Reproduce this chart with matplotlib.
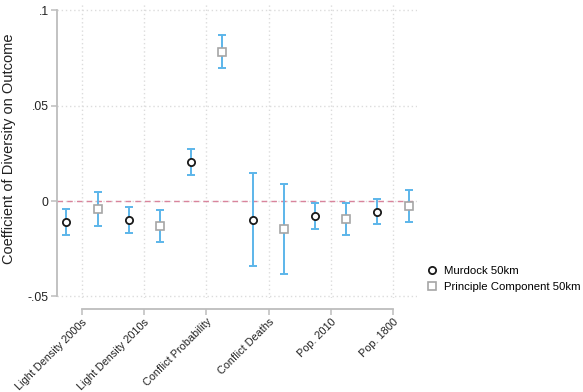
import matplotlib
matplotlib.use("Agg")
import matplotlib.pyplot as plt
import numpy as np

plt.rcParams['font.family'] = ['Liberation Sans', 'DejaVu Sans']

categories = ["Light Density 2000s", "Light Density 2010s", "Conflict Probability",
              "Conflict Deaths", "Pop. 2010", "Pop. 1800"]

murdock_coef = [-0.0110, -0.0101, 0.0204, -0.0098, -0.0077, -0.0056]
murdock_lo = [-0.0178, -0.0169, 0.0138, -0.0342, -0.0145, -0.0119]
murdock_hi = [-0.0042, -0.0033, 0.0271, 0.0147, -0.0009, 0.0010]

pc_coef = [-0.0042, -0.0131, 0.0782, -0.0147, -0.0094, -0.0028]
pc_lo = [-0.0129, -0.0215, 0.0695, -0.0380, -0.0180, -0.0112]
pc_hi = [0.0045, -0.0045, 0.0868, 0.0087, -0.0009, 0.0056]

ytick_vals = [-0.05, 0, 0.05, 0.1]
ytick_labels = ["-.05", "0", ".05", ".1"]

W, H = 583, 392
fig = plt.figure(figsize=(W / 100, H / 100), dpi=100)
ax = fig.add_axes([57 / W, 1 - 298 / H, (417 - 57) / W, (298 - 3) / H])

x = np.arange(1, len(categories) + 1)
offset = 0.25
ci_color = "#5cb6ea"

# confidence intervals
for xs, c, lo, hi in [(x - offset, murdock_coef, murdock_lo, murdock_hi),
                      (x + offset, pc_coef, pc_lo, pc_hi)]:
    c = np.array(c)
    yerr = np.vstack([c - np.array(lo), np.array(hi) - c])
    ax.errorbar(xs, c, yerr=yerr, fmt='none', ecolor=ci_color, elinewidth=1.4,
                capsize=2.6, capthick=1.4, zorder=3)

ax.plot(x - offset, murdock_coef, 'o', ms=5.2, mfc='white', mec='#1a1a1a', mew=1.3,
        linestyle='none', zorder=4, label="Murdock 50km")
ax.plot(x + offset, pc_coef, 's', ms=5.5, mfc='white', mec='#a6a6a6', mew=1.2,
        linestyle='none', zorder=4, label="Principle Component 50km")

ax.axhline(0, color='#d9849c', lw=1.0, ls=(0, (4, 3)), zorder=2)

ax.set_xlim(0.598, 6.386)
ax.set_ylim(-0.0508, 0.1038)

ax.grid(True, color='#dcdcdc', ls=(0, (1, 2)), lw=1.0)
ax.set_axisbelow(True)

for s in ['top', 'right']:
    ax.spines[s].set_visible(False)
ax.spines['left'].set_color('#bdbdbd')
ax.spines['left'].set_linewidth(1.3)
ax.spines['left'].set_bounds(-0.05, 0.1)
ax.spines['bottom'].set_color('#bdbdbd')
ax.spines['bottom'].set_linewidth(1.3)
ax.spines['bottom'].set_position(('outward', 8))
ax.spines['bottom'].set_bounds(1, 6)

ax.tick_params(axis='both', colors='#bdbdbd', width=1.1, length=4.3, labelcolor='#222222')
ax.tick_params(axis='y', labelsize=8.8, pad=1.8)
ax.tick_params(axis='x', labelsize=7.8, pad=1.2)

ax.set_yticks(ytick_vals)
ax.set_yticklabels(ytick_labels)
ax.set_xticks(x)
ax.set_xticklabels(categories)
for lbl in ax.get_xticklabels():
    lbl.set_rotation(45)
    lbl.set_ha('right')
    lbl.set_va('top')
    lbl.set_rotation_mode('anchor')

ax.set_ylabel("Coefficient of Diversity on Outcome", fontsize=10.5, color='#222222')
ax.yaxis.set_label_coords(-0.113, 0.505)

fig.legend(loc='upper left', bbox_to_anchor=(421 / W, 1 - 261 / H), frameon=False,
           fontsize=8.2, handletextpad=0.4, labelspacing=0.55, borderaxespad=0,
           handlelength=1.2)

fig.savefig("out.png", dpi=100)
